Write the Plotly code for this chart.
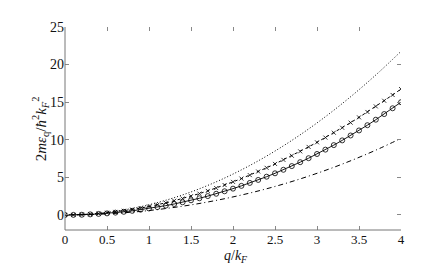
import plotly.graph_objects as go

# q/k_F grids
q_fine = [round(0.1 * i, 1) for i in range(41)]
q_coarse = [0.25 * i for i in range(17)]

# dotted curve (no markers)
dotted = [0, 0.085, 0.34, 0.765, 1.36, 2.125, 3.06, 4.165, 5.44, 6.885, 8.5,
          10.285, 12.24, 14.365, 16.66, 19.125, 21.76]

# dash-dot curve (no markers)
dashdot = [0, 0.04, 0.15, 0.33, 0.59, 0.93, 1.34, 1.83, 2.40, 3.05, 3.79,
           4.62, 5.54, 6.55, 7.66, 8.87, 10.19]

# dashed curve with x markers
dashed_x = [0, 0.01, 0.05, 0.10, 0.18, 0.29, 0.41, 0.56, 0.72, 0.91, 1.13,
            1.36, 1.61, 1.89, 2.19, 2.50, 2.84, 3.20, 3.58, 3.98, 4.40,
            4.84, 5.30, 5.78, 6.27, 6.79, 7.33, 7.88, 8.46, 9.05, 9.66,
            10.29, 10.94, 11.60, 12.28, 12.98, 13.70, 14.44, 15.19, 15.96, 16.75]

# solid curve with open circles
solid_o = [0, 0.01, 0.03, 0.08, 0.14, 0.21, 0.31, 0.42, 0.55, 0.70, 0.86,
           1.04, 1.24, 1.46, 1.69, 1.95, 2.22, 2.51, 2.82, 3.15, 3.50,
           3.87, 4.26, 4.66, 5.09, 5.54, 6.01, 6.50, 7.02, 7.55, 8.11,
           8.69, 9.29, 9.92, 10.57, 11.24, 11.94, 12.67, 13.42, 14.19, 15.00]

x_ticks = [0, 0.5, 1, 1.5, 2, 2.5, 3, 3.5, 4]
x_tick_text = ["0", "0.5", "1", "1.5", "2", "2.5", "3", "3.5", "4"]
y_ticks = [0, 5, 10, 15, 20, 25]

FONT = "Liberation Serif, Times New Roman, serif"

fig = go.Figure()
fig.add_trace(go.Scatter(x=q_coarse, y=dotted, mode="lines", line_shape="spline",
                         line=dict(color="black", width=1, dash="1px,2px")))
fig.add_trace(go.Scatter(x=q_fine, y=dashed_x, mode="lines+markers",
                         line=dict(color="black", width=1, dash="3px,3px"),
                         marker=dict(symbol="x-thin", size=4, color="black",
                                     line=dict(color="black", width=0.8))))
fig.add_trace(go.Scatter(x=q_fine, y=solid_o, mode="lines+markers",
                         line=dict(color="black", width=0.9),
                         marker=dict(symbol="circle-open", size=5, color="black",
                                     line=dict(color="black", width=0.8))))
fig.add_trace(go.Scatter(x=q_coarse, y=dashdot, mode="lines", line_shape="spline",
                         line=dict(color="black", width=1, dash="5px,3px,1px,3px")))

fig.update_layout(
    width=436, height=264,
    margin=dict(l=57, r=43, t=16, b=42),
    paper_bgcolor="white", plot_bgcolor="white",
    showlegend=False,
    font=dict(family=FONT, size=14, color="#111"),
)
fig.update_xaxes(range=[0, 4], tickvals=x_ticks, ticktext=x_tick_text,
                 ticks="inside", ticklen=4, tickcolor="#888", tickwidth=1,
                 tickfont=dict(size=13),
                 showline=False, mirror="ticks", showgrid=False, zeroline=False)
fig.update_yaxes(range=[-2, 25], tickvals=y_ticks,
                 ticks="inside", ticklen=4, tickcolor="#888", tickwidth=1,
                 showline=False, mirror="ticks", showgrid=False, zeroline=False)
# left and bottom axis lines
fig.add_shape(type="line", xref="x domain", yref="y domain", x0=0, x1=0, y0=0, y1=1,
              line=dict(color="#777", width=1))
fig.add_shape(type="line", xref="x domain", yref="y domain", x0=0, x1=1, y0=0, y1=0,
              line=dict(color="#777", width=1))
fig.add_annotation(text="<i>q</i>/<i>k</i><sub><i>F</i></sub>", xref="paper", yref="paper",
                   x=0.51, y=-0.13, xanchor="center", yanchor="middle", showarrow=False,
                   font=dict(family=FONT, size=14))
fig.add_annotation(text="2<i>m</i><i>ε</i><sub>q</sub>/<i>ħ</i><sup>2</sup><i>k</i><sub><i>F</i></sub><sup>2</sup>",
                   xref="paper", yref="paper", x=-0.075, y=0.5, textangle=-90,
                   xanchor="center", yanchor="middle", showarrow=False,
                   font=dict(family=FONT, size=15))

fig.write_html("out.html")
